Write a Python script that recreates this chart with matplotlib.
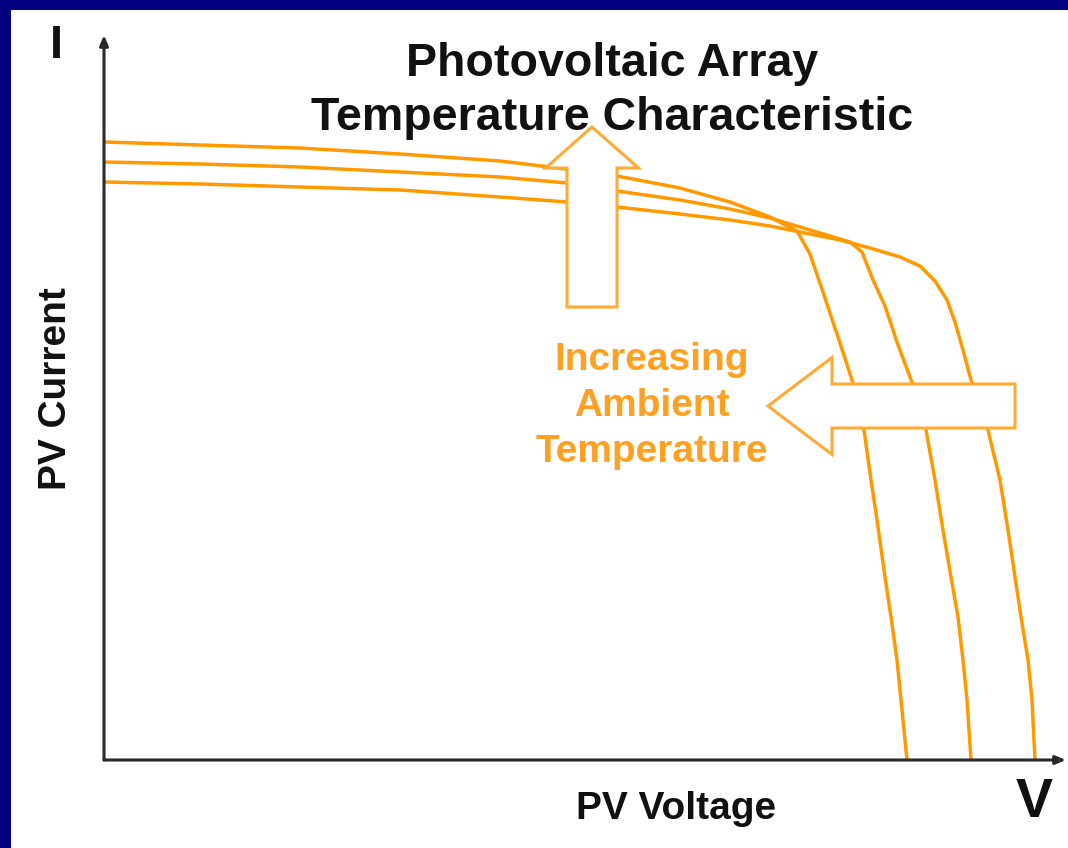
import matplotlib
matplotlib.use("Agg")
import matplotlib.pyplot as plt
from matplotlib.patches import FancyArrow, Rectangle

# ---- data (arbitrary units) ----
v_hot = [0, 9.6, 19.6, 29.6, 39.6, 44.6, 51.3, 57.6, 62.6, 66.6, 69.3, 70.6, 72.0, 73.5, 74.9,
         76.0, 76.7, 77.3, 78.1, 78.7, 79.3, 79.7, 80.3]
i_hot = [61.8, 61.5, 61.2, 60.6, 59.9, 59.3, 58.4, 57.2, 55.8, 54.3, 52.9, 50.6, 46.5, 42.0, 37.7,
         33.0, 28.0, 24.0, 18.3, 14.3, 10.0, 6.0, 0]

v_mid = [0, 9.6, 19.6, 29.6, 39.6, 46.3, 51.3, 57.6, 62.6, 66.6, 69.6, 72.6, 74.6, 75.8, 76.9,
         78.1, 79.4, 80.9, 82.2, 83.1, 83.9, 84.7, 85.4, 85.9, 86.3, 86.7]
i_mid = [59.8, 59.6, 59.3, 58.8, 58.3, 57.7, 56.9, 56.0, 55.1, 54.2, 53.3, 52.4, 51.8, 50.8, 48.0,
         45.4, 41.5, 37.5, 33.0, 28.0, 23.0, 18.3, 14.3, 10.0, 6.0, 0]

v_cold = [0, 9.6, 19.6, 29.6, 39.6, 46.3, 51.3, 57.6, 62.6, 66.6, 69.6, 73.6, 76.6, 79.6, 81.6,
          83.1, 84.3, 85.1, 85.9, 86.7, 87.6, 88.4, 89.6, 90.4, 91.1, 91.7, 92.4, 92.8, 93.1]
i_cold = [57.8, 57.6, 57.3, 57.0, 56.3, 55.8, 55.3, 54.6, 54.0, 53.4, 52.8, 52.0, 51.2, 50.3, 49.4,
          47.9, 46.0, 43.8, 41.0, 38.0, 35.5, 33.0, 28.0, 23.0, 18.3, 14.3, 10.0, 6.0, 0]

title_lines = ["Photovoltaic Array", "Temperature Characteristic"]
note_text = "Increasing\nAmbient\nTemperature"
x_label = "PV Voltage"
y_label = "PV Current"
v_max, i_max = 96.2, 72.5

W, H = 1068, 848
fig = plt.figure(figsize=(W / 100, H / 100), dpi=100)
fig.patch.set_facecolor("white")

FONT = ["Liberation Sans", "DejaVu Sans"]
ORANGE = "#FF9900"
AXC = "#2a2a2a"

# main data axes
x0, x1, y0, y1 = 104, 1066, 760, 35
ax = fig.add_axes([x0 / W, (H - y0) / H, (x1 - x0) / W, (y0 - y1) / H])
ax.set_xlim(0, v_max)
ax.set_ylim(0, i_max)
ax.axis("off")
for v, i in [(v_hot, i_hot), (v_mid, i_mid), (v_cold, i_cold)]:
    ax.plot(v, i, color=ORANGE, lw=2.5, solid_joinstyle="round", solid_capstyle="butt", clip_on=False)

# axes with arrows
for end in [(0, 1), (1, 0)]:
    ax.annotate("", xy=end, xytext=(0, 0), xycoords="axes fraction",
                arrowprops=dict(arrowstyle="-|>,head_length=0.6,head_width=0.25", color=AXC, lw=2.2,
                                shrinkA=0, shrinkB=0))

# decoration overlay in pixel coordinates
deco = fig.add_axes([0, 0, 1, 1], zorder=5)
deco.set_xlim(0, W)
deco.set_ylim(H, 0)
deco.axis("off")
deco.patch.set_alpha(0)

# navy frame (top and left)
deco.add_patch(Rectangle((0, 0), W, 10, color="#000080", lw=0))
deco.add_patch(Rectangle((0, 0), 11, H, color="#000080", lw=0))

# hollow arrows
AEDGE = "#FFAA33"
deco.add_patch(FancyArrow(592, 307, 0, -180, width=50, head_width=93, head_length=41,
                          length_includes_head=True, facecolor="white", edgecolor=AEDGE, lw=2.2))
deco.add_patch(FancyArrow(1015, 406, -247, 0, width=44, head_width=97, head_length=64,
                          length_includes_head=True, facecolor="white", edgecolor=AEDGE, lw=2.2))

# texts
deco.text(612, 76, title_lines[0], ha="center", va="baseline", fontsize=33.5,
          fontweight="bold", family=FONT, color="#111111")
deco.text(612, 130, title_lines[1], ha="center", va="baseline", fontsize=33.5,
          fontweight="bold", family=FONT, color="#111111")
deco.text(652, 406, note_text, ha="center", va="center", fontsize=28, fontweight="bold",
          family=FONT, color="#FFA020", linespacing=1.34)
deco.text(676, 809, x_label, ha="center", va="center", fontsize=28, fontweight="bold",
          family=FONT, color="#111111")
deco.text(56, 389, y_label, ha="center", va="center", rotation=90, fontsize=28,
          fontweight="bold", family=FONT, color="#111111")
deco.text(56, 46, "I", ha="center", va="center", fontsize=34, fontweight="bold", family=FONT,
          color="#111111")
deco.text(1034, 803, "V", ha="center", va="center", fontsize=40, fontweight="bold", family=FONT,
          color="#111111")

fig.savefig("out.png", dpi=100, facecolor="white")
